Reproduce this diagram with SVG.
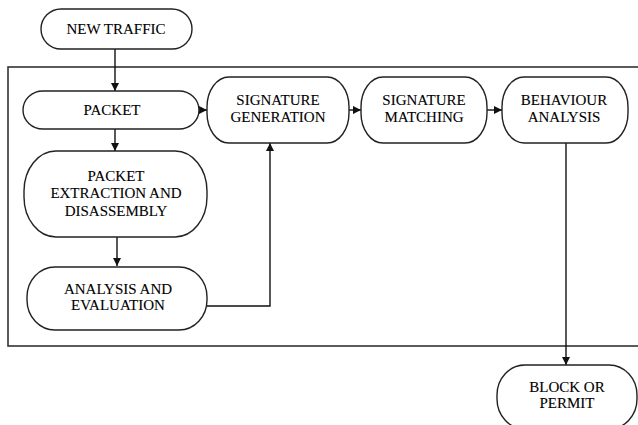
<svg xmlns="http://www.w3.org/2000/svg" width="638" height="425" viewBox="0 0 638 425">
<defs>
<style>
.n{fill:#fff;stroke:#222;stroke-width:1.4}
.t{font-family:'Liberation Serif','Times New Roman',Times,serif;font-size:15px;fill:#000;stroke:#000;stroke-width:0.1;text-anchor:middle}
.c{fill:none;stroke:#111;stroke-width:1.4}
.f{fill:none;stroke:#333;stroke-width:1.6}
</style>
<marker id="ah" viewBox="0 0 10 10" refX="10" refY="5" markerWidth="8" markerHeight="8" markerUnits="userSpaceOnUse" orient="auto">
<path d="M0,0 L10,5 L0,10 Z" fill="#111"/>
</marker>
</defs>
<rect class="f" x="8" y="67" width="640" height="279"/>
<g id="connectors">
<line class="c" x1="115" y1="49" x2="115" y2="91" marker-end="url(#ah)"/>
<line class="c" x1="115" y1="129" x2="115" y2="151" marker-end="url(#ah)"/>
<line class="c" x1="117" y1="237" x2="117" y2="266" marker-end="url(#ah)"/>
<line class="c" x1="199" y1="110" x2="207" y2="110" marker-end="url(#ah)"/>
<line class="c" x1="349" y1="110" x2="361" y2="110" marker-end="url(#ah)"/>
<line class="c" x1="487" y1="110" x2="502" y2="110" marker-end="url(#ah)"/>
<polyline class="c" points="207,306 270,306 270,143" marker-end="url(#ah)"/>
<line class="c" x1="566" y1="143" x2="566" y2="365" marker-end="url(#ah)"/>
</g>
<g id="new-traffic">
<rect class="n" x="41" y="9" width="151" height="40" rx="20" ry="20"/>
<text class="t" x="116" y="34">NEW TRAFFIC</text>
</g>
<g id="packet">
<rect class="n" x="23" y="91" width="176" height="38" rx="20" ry="19"/>
<text class="t" x="112" y="115">PACKET</text>
</g>
<g id="packet-extraction">
<rect class="n" x="24" y="151" width="183" height="86" rx="32" ry="40"/>
<text class="t" x="116" y="181">PACKET</text>
<text class="t" x="116" y="198">EXTRACTION AND</text>
<text class="t" x="116" y="216">DISASSEMBLY</text>
</g>
<g id="analysis-evaluation">
<rect class="n" x="27" y="267" width="180" height="63" rx="28" ry="30"/>
<text class="t" x="118" y="294">ANALYSIS AND</text>
<text class="t" x="118" y="310">EVALUATION</text>
</g>
<g id="signature-generation">
<rect class="n" x="207" y="77" width="142" height="66" rx="22" ry="30"/>
<text class="t" x="278" y="105">SIGNATURE</text>
<text class="t" x="278" y="122">GENERATION</text>
</g>
<g id="signature-matching">
<rect class="n" x="361" y="77" width="126" height="66" rx="22" ry="30"/>
<text class="t" x="424" y="105">SIGNATURE</text>
<text class="t" x="424" y="122">MATCHING</text>
</g>
<g id="behaviour-analysis">
<rect class="n" x="502" y="77" width="126" height="66" rx="22" ry="30"/>
<text class="t" x="564" y="105">BEHAVIOUR</text>
<text class="t" x="564" y="122">ANALYSIS</text>
</g>
<g id="block-permit">
<rect class="n" x="497" y="365" width="140" height="64" rx="28" ry="30"/>
<text class="t" x="567" y="392">BLOCK OR</text>
<text class="t" x="567" y="408">PERMIT</text>
</g>
</svg>
